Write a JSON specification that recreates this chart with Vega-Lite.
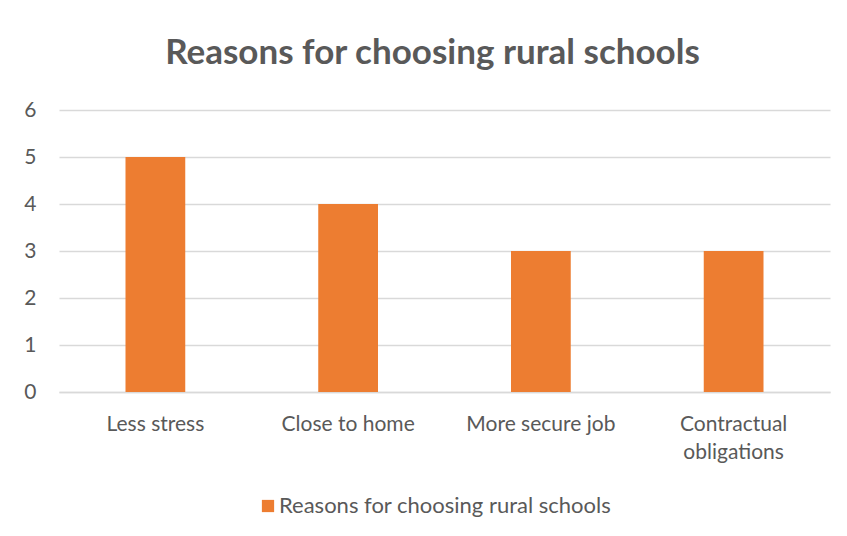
{
  "$schema": "https://vega.github.io/schema/vega-lite/v6.json",
  "autosize": {"type": "none"},
  "padding": {"left": 59, "top": 110, "right": 17, "bottom": 144},
  "width": 771,
  "height": 282,
  "background": "white",
  "title": {
    "text": "Reasons for choosing rural schools",
    "font": "Lato",
    "fontSize": 35,
    "fontWeight": "bold",
    "color": "#595959",
    "anchor": "middle",
    "dx": -12,
    "offset": 28
  },
  "data": {
    "values": [
      {"reason": "Less stress", "count": 5, "series": "Reasons for choosing rural schools"},
      {"reason": "Close to home", "count": 4, "series": "Reasons for choosing rural schools"},
      {"reason": "More secure job", "count": 3, "series": "Reasons for choosing rural schools"},
      {"reason": "Contractual obligations", "count": 3, "series": "Reasons for choosing rural schools"}
    ]
  },
  "mark": {"type": "bar"},
  "encoding": {
    "x": {
      "field": "reason",
      "type": "nominal",
      "sort": null,
      "scale": {"paddingInner": 0.69, "paddingOuter": 0.345},
      "axis": {
        "title": null,
        "labelAngle": 0,
        "labelFont": "Lato",
        "labelFontSize": 21,
        "labelColor": "#595959",
        "labelPadding": 21,
        "labelLineHeight": 28,
        "labelLimit": 0,
        "labelExpr": "datum.value == 'Contractual obligations' ? ['Contractual', 'obligations'] : datum.value",
        "ticks": false,
        "domainColor": "#D9D9D9",
        "domainWidth": 1.5
      }
    },
    "y": {
      "field": "count",
      "type": "quantitative",
      "scale": {"domain": [0, 6]},
      "axis": {
        "title": null,
        "tickCount": 6,
        "labelFont": "Lato",
        "labelFontSize": 21,
        "labelColor": "#595959",
        "labelPadding": 23,
        "ticks": false,
        "domain": false,
        "gridColor": "#D9D9D9",
        "gridWidth": 1.5
      }
    },
    "color": {
      "field": "series",
      "type": "nominal",
      "scale": {"range": ["#ED7D31"]},
      "legend": {
        "title": null,
        "orient": "none",
        "legendX": 198,
        "legendY": 385,
        "direction": "horizontal",
        "symbolType": "square",
        "symbolSize": 150,
        "symbolStrokeWidth": 0,
        "symbolOffset": 0,
        "labelFont": "Lato",
        "labelFontSize": 22,
        "labelColor": "#595959",
        "labelLimit": 0,
        "labelOffset": 0
      }
    }
  },
  "config": {
    "view": {"stroke": null}
  }
}
